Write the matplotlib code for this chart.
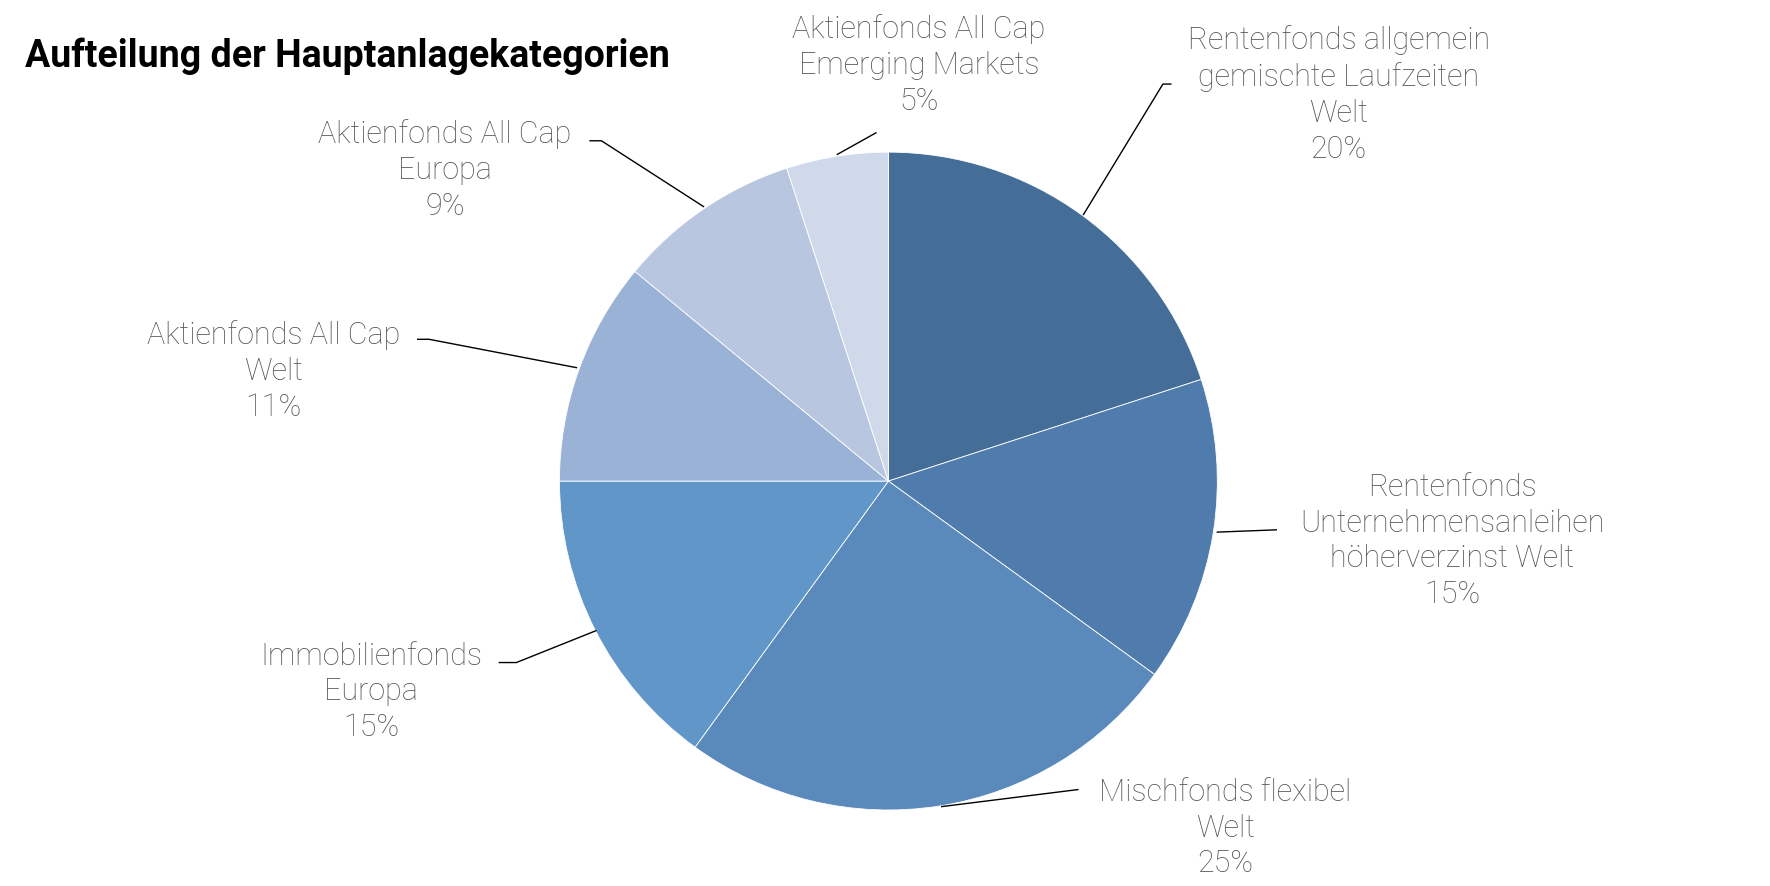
import matplotlib.pyplot as plt

# slices, clockwise from 12 o'clock
labels = ['Rentenfonds allgemein\ngemischte Laufzeiten\nWelt',
          'Rentenfonds\nUnternehmensanleihen\nhöherverzinst Welt',
          'Mischfonds flexibel\nWelt',
          'Immobilienfonds\nEuropa',
          'Aktienfonds All Cap\nWelt',
          'Aktienfonds All Cap\nEuropa',
          'Aktienfonds All Cap\nEmerging Markets']
shares = [20, 15, 25, 15, 11, 9, 5]
colors = ['#446e98', '#4f7cac', '#5a8abb', '#6096c8', '#99b2d6', '#b8c6e0', '#d0d9ea']

# text centres and leader lines (canvas px, y from top)
text_pos = [(1180, 83), (1280, 477), (1080, 730), (327, 610), (241, 327), (392, 150), (810, 57)]
leaders = [[(955, 190), (1025, 75), (1032, 75)],
           [(1073, 470), (1125, 468)],
           [(830, 712), (950, 697)],
           [(525, 557), (455, 585), (440, 585)],
           [(508, 325), (378, 300), (368, 300)],
           [(620, 183), (530, 125), (520, 125)],
           [(738, 137), (772, 118)]]

W, H = 1560, 782
fig = plt.figure(figsize=(17.7, 8.87), dpi=100)
ax = fig.add_axes([0, 0, 1, 1])

ax.pie(shares, colors=colors, startangle=90, counterclock=False,
       center=(783, H - 425), radius=290, frame=True,
       wedgeprops=dict(edgecolor='white', linewidth=0.6))
ax.set_xlim(0, W)
ax.set_ylim(0, H)
ax.set_aspect('equal')
ax.axis('off')

for lab, s, (x, y), pts in zip(labels, shares, text_pos, leaders):
    ax.text(x, H - y, f'{lab}\n{s}%', ha='center', va='center', fontsize=22,
            family='Roboto', fontweight='light', color='#555555', linespacing=1.3)
    ax.plot([p[0] for p in pts], [H - p[1] for p in pts], color='black', lw=1)

ax.text(22, H - 50, 'Aufteilung der Hauptanlagekategorien', ha='left', va='center',
        fontsize=27, family='Roboto', fontweight='bold', color='black')

fig.savefig('out.png', dpi=100)
